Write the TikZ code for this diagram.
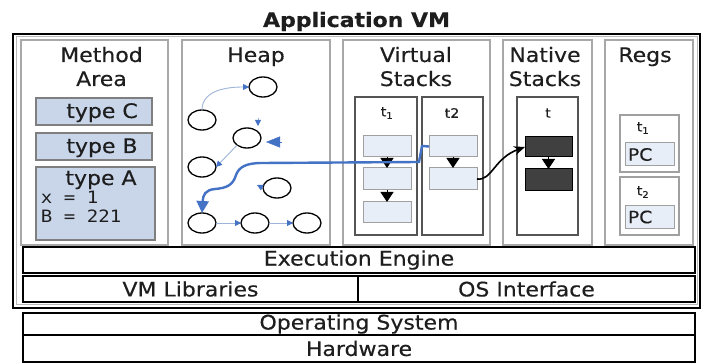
\documentclass[tikz,border=0pt]{standalone}
\usepackage{fontspec}
\setmainfont{DejaVu Sans}[FakeStretch=1.1,FakeBold=0.35]
\newfontfamily\monof{DejaVu Sans Mono}[FakeStretch=1.12]
\usetikzlibrary{shapes.geometric,arrows.meta}
\definecolor{panelgray}{HTML}{A8A8A8}
\definecolor{typefill}{HTML}{C9D6EA}
\definecolor{typeborder}{HTML}{7F7F7F}
\definecolor{framefill}{HTML}{E8EEF8}
\definecolor{framedraw}{HTML}{A0A0A0}
\definecolor{stackdraw}{HTML}{555555}
\definecolor{darkbox}{HTML}{404040}
\definecolor{heapblue}{HTML}{4472C4}
\definecolor{thinblue}{HTML}{9DB4D8}
\definecolor{txt}{HTML}{1E1E1E}
\tikzset{
  every node/.style={font=\fontsize{20}{24}\selectfont, text=txt, inner sep=0pt, outer sep=0pt},
  panel/.style={draw=panelgray, line width=2pt, rectangle, minimum height=205pt},
  typebox/.style={draw=typeborder, fill=typefill, line width=1.3pt, rectangle},
  stackframe/.style={draw=framedraw, fill=framefill, line width=1pt, rectangle, minimum width=48pt},
  stackbox/.style={draw=stackdraw, line width=2pt, rectangle, minimum height=138pt},
  darkframe/.style={draw=black, fill=darkbox, line width=1pt, rectangle, minimum width=47pt},
  layer/.style={draw=black, line width=1.6pt, rectangle},
  obj/.style={ellipse, draw=black, line width=1.3pt, minimum width=28pt, minimum height=20pt},
  lbl/.style={anchor=base},
  tiny/.style={font=\fontsize{13}{14}\selectfont},
  regbox/.style={draw=framedraw, line width=1.5pt, rectangle, minimum width=59pt},
  pcbox/.style={draw=framedraw, fill=framefill, line width=1pt, rectangle, minimum width=49pt, minimum height=23pt},
  thinarrow/.style={draw=thinblue, line width=0.9pt, -{Triangle[width=6pt,length=6pt,color=heapblue]}},
  pushtip/.style={line width=0.8pt, -{Triangle[width=13pt,length=10pt]}}
}
\begin{document}
\begin{tikzpicture}[x=1pt,y=-1pt]
\useasboundingbox (0,0) rectangle (705,363);
\fill[white] (0,0) rectangle (705,363);

% title
\node[lbl, font=\bfseries\fontsize{20}{24}\selectfont] (title) at (356.5,27) {Application VM};

% outer VM box
\node[draw=black, line width=2.5pt, minimum width=687pt, minimum height=274pt] (vm) at (356.5,171) {};
\draw[gray!55, line width=1pt] ([shift={(3,3)}]vm.north west) rectangle ([shift={(-3,-3)}]vm.south east);

% panels
\node[panel, minimum width=147pt] (pMA) at (94.5,142.5) {};
\node[panel, minimum width=148pt] (pHeap) at (256,142.5) {};
\node[panel, minimum width=147pt] (pVS) at (416.5,142.5) {};
\node[panel, minimum width=89pt] (pNS) at (547.5,142.5) {};
\node[panel, minimum width=88pt] (pRegs) at (649,142.5) {};

% panel titles
\node[lbl] (lMA1) at (101.5,62) {Method};
\node[lbl] (lMA2) at (101.5,86) {Area};
\node[lbl] (lHeap) at (256,62) {Heap};
\node[lbl] (lVS1) at (416,62) {Virtual};
\node[lbl] (lVS2) at (416,86) {Stacks};
\node[lbl] (lNS1) at (545,62) {Native};
\node[lbl] (lNS2) at (545,86) {Stacks};
\node[lbl] (lRegs) at (645,62) {Regs};

% method area
\node[typebox, minimum width=116pt, minimum height=27pt] (tC) at (94,111.5) {};
\node[typebox, minimum width=116pt, minimum height=27pt] (tB) at (94,146.5) {};
\node[typebox, minimum width=119pt, minimum height=73pt] (tA) at (95.5,203.5) {};
\node[lbl] (tCl) at (102,118) {type C};
\node[lbl] (tBl) at (102,153) {type B};
\node[lbl] (tAl) at (101,185) {type A};
\node[anchor=base west, font=\monof\fontsize{17}{20}\selectfont] (fx) at (41,204) {x = 1};
\node[anchor=base west, font=\monof\fontsize{17}{20}\selectfont] (fb) at (41,223) {B = 221};

% heap objects
\node[obj] (h1) at (263,87) {};
\node[obj] (h2) at (202,120) {};
\node[obj] (h3) at (247,138) {};
\node[obj] (h4) at (202,167) {};
\node[obj] (h5) at (277,188) {};
\node[obj] (h6) at (202,223) {};
\node[obj] (h7) at (255,223) {};
\node[obj] (h8) at (307,223) {};
\coordinate (c1a) at (258,118);
\coordinate (c1b) at (258,126);
\coordinate (c2a) at (282,142);
\coordinate (c2b) at (266,142);
\coordinate (c4) at (257,185);
\draw[thinarrow] (h2.north) to[out=90,in=180] (h1.west);
\draw[thinarrow] (h3.south west) -- (h4.east);
\draw[thinarrow] (c1a) -- (c1b);
\draw[heapblue, line width=0.5pt, -{Triangle[width=11pt,length=14pt]}] (c2a) -- (c2b);
\draw[thinarrow] (h5.west) -- (c4);
\draw[thinarrow] (h6.east) -- (h7.west);
\draw[thinarrow] (h7.east) -- (h8.west);

% virtual stacks
\node[stackbox, minimum width=62pt] (vs1) at (386,166) {};
\node[stackbox, minimum width=61pt] (vs2) at (452.5,166) {};
\node[tiny] (vs1l) at (387,113) {t\textsubscript{1}};
\node[tiny] (vs2l) at (452,113) {t2};
\node[stackframe, minimum height=21pt] (t1a) at (387,146.5) {};
\node[stackframe, minimum height=22pt] (t1b) at (387,179) {};
\node[stackframe, minimum height=21pt] (t1c) at (387,212.5) {};
\node[stackframe, minimum height=21pt] (t2a) at (453,146.5) {};
\node[stackframe, minimum height=22pt] (t2b) at (453,179) {};
\draw[pushtip] (t1a.south) -- (t1b.north);
\draw[pushtip] (t1b.south) -- (t1c.north);
\draw[pushtip] (t2a.south) -- (t2b.north);

% native stacks
\node[stackbox, minimum width=61pt] (ns1) at (547.5,166) {};
\node[tiny] (ns1l) at (548,113) {t};
\node[darkframe, minimum height=20pt] (na) at (548.5,147) {};
\node[darkframe, minimum height=22pt] (nb) at (548.5,180) {};
\draw[pushtip] (na.south) -- (nb.north);

% regs
\node[regbox, minimum height=57pt] (r1) at (649.5,143.5) {};
\node[regbox, minimum height=58pt] (r2) at (649.5,206) {};
\node[tiny] (r1l) at (643,128) {t\textsubscript{1}};
\node[tiny] (r2l) at (643,192) {t\textsubscript{2}};
\node[pcbox] (pc1) at (649.5,154.5) {};
\node[pcbox] (pc2) at (649.5,217) {};
\node[anchor=west, font=\fontsize{17}{20}\selectfont] (pc1l) at (628,154.5) {PC};
\node[anchor=west, font=\fontsize{17}{20}\selectfont] (pc2l) at (628,217) {PC};

% thick blue reference from t2 frame into heap
\draw[heapblue, line width=2.4pt, -{Triangle[width=12pt,length=12pt]}]
  (t2a.west) -- (422,146) -- (419,162) -- (262,163)
  .. controls (246,163) and (239,167) .. (236,175)
  .. controls (233,185) and (227,188) .. (215,189)
  .. controls (205,190) and (203,195) .. (h6.north);

% native call
\draw[black, line width=1.6pt, -{Stealth[length=11pt,width=9pt]}]
  (t2b.east) .. controls (492,181) and (494,158) .. (na.west);

% bottom layers
\node[layer, minimum width=672pt, minimum height=26pt] (ee) at (359,260) {Execution Engine};
\node[layer, minimum width=335pt, minimum height=26pt] (lib) at (190.5,289) {VM Libraries};
\node[layer, minimum width=337pt, minimum height=26pt] (osi) at (526.5,289) {OS Interface};
\node[layer, minimum width=672pt, minimum height=22pt] (os) at (359,324) {Operating System};
\node[layer, minimum width=672pt, minimum height=27pt] (hw) at (359,348.5) {Hardware};
\end{tikzpicture}
\end{document}
